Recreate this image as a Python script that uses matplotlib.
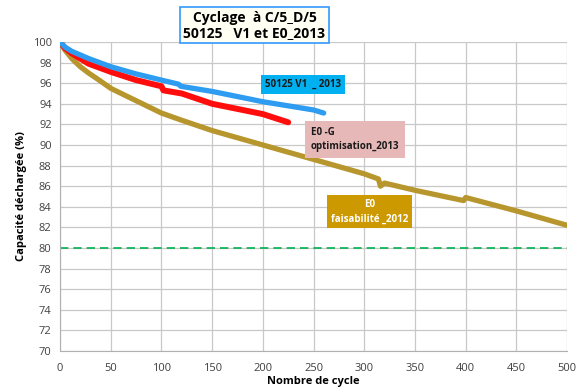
import matplotlib.pyplot as plt

plt.rcParams['font.family'] = ['Open Sans', 'DejaVu Sans']

# 50125 V1 _ 2013
v1_cycle = [0, 5, 11.5, 28, 50, 75, 100, 117, 119, 150, 200, 250, 260]
v1_cap = [100, 99.5, 99.1, 98.4, 97.6, 96.9, 96.3, 95.9, 95.7, 95.2, 94.2, 93.4, 93.1]

# E0-G optimisation_2013
e0g_cycle = [0, 5, 11.5, 28, 50, 75, 100, 102, 120, 150, 200, 225]
e0g_cap = [100, 99.4, 98.9, 97.9, 97.1, 96.3, 95.7, 95.3, 95.0, 94.0, 93.0, 92.2]

# E0 faisabilite_2012
e0_cycle = [0, 5, 11.5, 20, 28, 40, 50, 75, 100, 120, 150, 200, 250, 300, 314, 316, 320,
            350, 398, 400, 450, 500]
e0_cap = [100, 99.2, 98.4, 97.6, 97.0, 96.2, 95.5, 94.3, 93.1, 92.4, 91.4, 90.0, 88.6, 87.2, 86.7, 86.0, 86.3,
          85.6, 84.6, 84.9, 83.6, 82.2]

limit = 80
x_ticks = list(range(0, 501, 50))
y_ticks = list(range(70, 101, 2))

fig = plt.figure(figsize=(5.81, 3.88), dpi=100)
ax = fig.add_axes([0.1033, 0.0954, 0.8727, 0.7964])

ax.plot(e0_cycle, e0_cap, color='#B8962E', lw=3.8, solid_capstyle='round', solid_joinstyle='round', zorder=3)
ax.plot(e0g_cycle, e0g_cap, color='#FF0D0D', lw=4.3, solid_capstyle='round', solid_joinstyle='round', zorder=4)
ax.plot(v1_cycle, v1_cap, color='#2E9CF0', lw=3.8, solid_capstyle='round', solid_joinstyle='round', zorder=5)
ax.axhline(limit, color='#00B050', lw=1.2, ls=(0, (5, 3)), zorder=2)

ax.set_xlim(0, 500)
ax.set_ylim(70, 100)
ax.set_xticks(x_ticks)
ax.set_yticks(y_ticks)
ax.tick_params(length=0, labelsize=8, colors='#404040', pad=6)
ax.tick_params(axis='x', pad=9)
ax.grid(True, color='#C8C8C8', lw=0.9)
ax.set_axisbelow(True)
for s in ['top', 'right']:
    ax.spines[s].set_visible(False)
for s in ['left', 'bottom']:
    ax.spines[s].set_color('#B0B0B0')

ax.set_xlabel('Nombre de cycle', fontsize=8, fontweight='bold', labelpad=1)
ax.set_ylabel('Capacité déchargée (%)', fontsize=8, fontweight='bold', labelpad=4)

fig.text(0.438, 0.935, 'Cyclage  à C/5_D/5\n50125   V1 et E0_2013', ha='center', va='center',
         fontsize=10, fontweight='bold', linespacing=1.1,
         bbox=dict(boxstyle='square,pad=0.25', fc='#FFFFF4', ec='#3399FF', lw=1.2))

ax.text(0.5215, 0.782, '50125 V1  _ 2013', transform=fig.transFigure, ha='center', va='center',
        fontsize=7, fontweight='bold', color='#1A1A1A',
        bbox=dict(boxstyle='square,pad=0.45', fc='#00B0F0', ec='none'))
ax.text(0.535, 0.64, 'E0 -G\noptimisation_2013', transform=fig.transFigure, ha='left', va='center',
        fontsize=7, fontweight='bold', color='#1A1A1A', linespacing=1.4,
        bbox=dict(boxstyle='square,pad=0.6', fc='#E6B9B8', ec='none'))
ax.text(0.636, 0.454, 'E0\nfaisabilité _2012', transform=fig.transFigure, ha='center', va='center',
        fontsize=7, fontweight='bold', color='white', linespacing=1.4,
        bbox=dict(boxstyle='square,pad=0.4', fc='#CC9900', ec='none'))

fig.savefig('out.png', dpi=100)
